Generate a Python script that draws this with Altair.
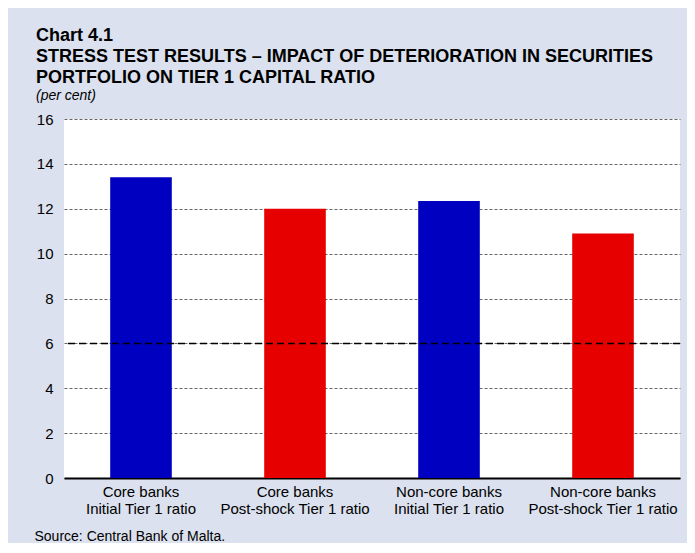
import altair as alt
import pandas as pd

categories = [
    "Core banks|Initial Tier 1 ratio",
    "Core banks|Post-shock Tier 1 ratio",
    "Non-core banks|Initial Tier 1 ratio",
    "Non-core banks|Post-shock Tier 1 ratio",
]
values = [13.4, 12.0, 12.35, 10.9]
kinds = ["Initial", "Post-shock", "Initial", "Post-shock"]
threshold = [6]

df = pd.DataFrame({"cat": categories, "val": values, "kind": kinds})
thr = pd.DataFrame({"y": threshold})

FONT = "Liberation Sans"

bars = alt.Chart(df).mark_bar().encode(
    x=alt.X(
        "cat:N",
        sort=categories,
        scale=alt.Scale(paddingInner=0.6, paddingOuter=0.3),
        axis=alt.Axis(
            title="Source: Central Bank of Malta.",
            titleAnchor="start",
            titleX=-30,
            titleY=62,
            titleBaseline="alphabetic",
            titleFontSize=14,
            titleFontWeight="normal",
            titleFont=FONT,
            titleColor="#000000",
            labelExpr="split(datum.label, '|')",
            labelAngle=0,
            labelFontSize=15,
            labelFont=FONT,
            labelColor="#000000",
            labelLineHeight=17,
            labelPadding=6,
            ticks=False,
            domainColor="#000000",
            domainWidth=2,
            grid=False,
        ),
    ),
    y=alt.Y(
        "val:Q",
        scale=alt.Scale(domain=[0, 16]),
        axis=alt.Axis(
            title=None,
            values=[0, 2, 4, 6, 8, 10, 12, 14, 16],
            labelFontSize=15,
            labelFont=FONT,
            labelColor="#000000",
            labelPadding=11,
            ticks=False,
            domain=False,
            grid=True,
            gridDash=[3, 2],
            gridColor="#666666",
            gridWidth=1,
        ),
    ),
    color=alt.Color(
        "kind:N",
        scale=alt.Scale(domain=["Initial", "Post-shock"], range=["#0000c0", "#e60000"]),
        legend=None,
    ),
)

rule = alt.Chart(thr).mark_rule(color="#000000", strokeDash=[7, 4], strokeWidth=1.5).encode(
    y=alt.Y("y:Q")
)

chart = (
    alt.layer(bars, rule)
    .properties(
        width=616,
        height=359,
        autosize=alt.AutoSizeParams(type="none"),
        padding={"left": 56, "top": 111, "right": 7, "bottom": 65},
        background="#dbe1ee",
        title=alt.TitleParams(
            text=[
                "Chart 4.1",
                "STRESS TEST RESULTS \u2013 IMPACT OF DETERIORATION IN SECURITIES",
                "PORTFOLIO ON TIER 1 CAPITAL RATIO",
            ],
            subtitle="(per cent)",
            anchor="start",
            frame="group",
            dx=-28,
            offset=9,
            font=FONT,
            fontSize=18,
            fontWeight="bold",
            color="#000000",
            lineHeight=21,
            subtitleFont=FONT,
            subtitleFontSize=14,
            subtitleFontStyle="italic",
            subtitleColor="#000000",
            subtitlePadding=2,
        ),
    )
    .configure_view(fill="#ffffff", stroke=None)
)

chart.save("out.html", embed_options={"renderer": "svg", "actions": False})
